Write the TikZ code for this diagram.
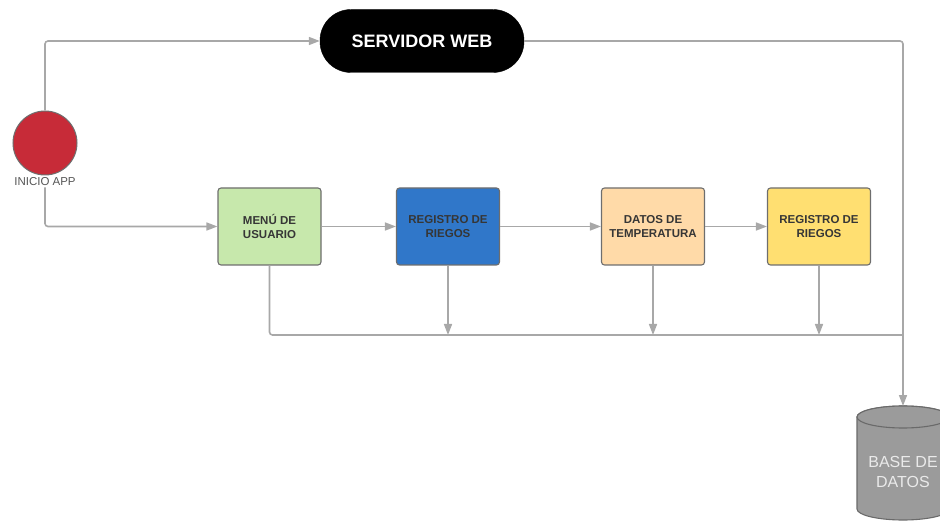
\documentclass[tikz,border=0pt]{standalone}
\usepackage{fontspec}
\setmainfont{Liberation Sans}
\usetikzlibrary{arrows.meta}
\definecolor{linegray}{HTML}{A8A8A8}
\definecolor{edgegray}{HTML}{6E6E6E}
\definecolor{textgray}{HTML}{363636}
\definecolor{labelgray}{HTML}{555555}
\definecolor{startred}{HTML}{C72B38}
\definecolor{menugreen}{HTML}{C7E8AC}
\definecolor{regblue}{HTML}{3077C9}
\definecolor{tempor}{HTML}{FFDAA8}
\definecolor{regyellow}{HTML}{FFDF71}
\definecolor{dbgray}{HTML}{9B9B9B}
\definecolor{dbedge}{HTML}{6A6A6A}
\definecolor{dbtext}{HTML}{EAEAEA}
\begin{document}
\begin{tikzpicture}[x=1pt,y=1pt,
  link/.style={draw=linegray, line width=1.6pt, rounded corners=3pt},
  arrowlink/.style={link, -{Triangle[length=11pt,width=8pt]}},
  startnode/.style={circle, draw=edgegray, line width=1pt, fill=startred, minimum size=64pt, inner sep=0pt},
  server/.style={draw=black, fill=black, rounded corners=31pt, minimum width=204pt, minimum height=63pt,
    text=white, font=\bfseries\fontsize{18}{20}\selectfont},
  stepbox/.style={draw=edgegray, line width=1.1pt, rounded corners=3pt, minimum width=103pt, minimum height=77pt,
    align=center, text=textgray, font=\bfseries\fontsize{11.5}{13.5}\selectfont}]
\clip (0,0) rectangle (940,520);
\useasboundingbox (0,0) rectangle (940,520);

% start point and its label
\node[startnode] (start) at (45,377) {};
\node[text=labelgray, font=\fontsize{11.5}{13}\selectfont, inner sep=1pt] (lbl) at (45,338) {INICIO APP};

% web server
\node[server] (srv) at (422,479) {SERVIDOR WEB};

% process steps
\node[stepbox, fill=menugreen] (menu) at (269.5,293.5) {MENÚ DE\\USUARIO};
\node[stepbox, fill=regblue] (reg1) at (448,293.5) {REGISTRO DE\\RIEGOS};
\node[stepbox, fill=tempor] (temp) at (653,293.5) {DATOS DE\\TEMPERATURA};
\node[stepbox, fill=regyellow] (reg2) at (819,293.5) {REGISTRO DE\\RIEGOS};

% database cylinder
\begin{scope}[draw=dbedge, line width=1.1pt, fill=dbgray]
  \filldraw (857,103) -- (857,11) arc[start angle=180, end angle=360, x radius=46, y radius=11]
    -- (949,103) arc[start angle=0, end angle=180, x radius=46, y radius=11] -- cycle;
  \filldraw (903,103) ellipse[x radius=46, y radius=11];
\end{scope}
\node[align=center, text=dbtext, font=\fontsize{16}{20}\selectfont] (db) at (903,48) {BASE DE\\DATOS};
\coordinate (dbtop) at (903,114);
\coordinate (bus) at (903,185);

% connectors
\draw[arrowlink] (start.north) |- (srv.west);
\draw[arrowlink] (srv.east) -| (dbtop);
\draw[arrowlink] (lbl.south) |- (menu.west);
\draw[arrowlink] (menu.east) -- (reg1.west);
\draw[arrowlink] (reg1.east) -- (temp.west);
\draw[arrowlink] (temp.east) -- (reg2.west);
\draw[link] (menu.south) |- (bus);
\draw[arrowlink] (reg1.south) -- (reg1.south |- bus);
\draw[arrowlink] (temp.south) -- (temp.south |- bus);
\draw[arrowlink] (reg2.south) -- (reg2.south |- bus);
\end{tikzpicture}
\end{document}
